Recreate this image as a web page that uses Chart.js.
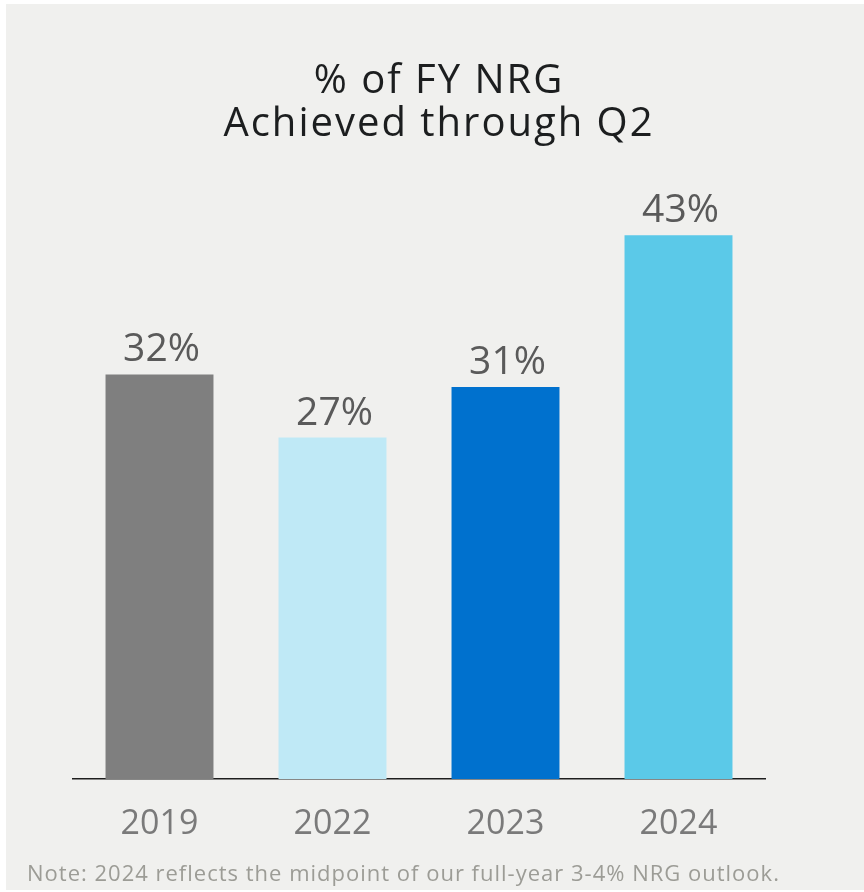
<!DOCTYPE html>
<html>
<head>
<meta charset="utf-8">
<script src="https://cdn.jsdelivr.net/npm/chart.js@4.4.1/dist/chart.umd.min.js"></script>
<style>
  html, body { margin: 0; padding: 0; background: #ffffff; }
  #wrap { width: 864px; height: 892px; position: relative; }
</style>
</head>
<body>
<div id="wrap"><canvas id="chart" width="864" height="892"></canvas></div>
<script>
// Share of full-year NRG achieved through Q2, by year
const years = ['2019', '2022', '2023', '2024'];
const pctAchieved = [32, 27, 31, 43];
const barColors = ['#7f7f7f', '#bfe9f6', '#0071ce', '#5bc9e8'];
const titleLines = ['% of FY NRG', 'Achieved through Q2'];
const noteText = 'Note: 2024 reflects the midpoint of our full-year 3-4% NRG outlook.';

const FONT = '"Open Sans", "Noto Sans", sans-serif';

// Panel background, title and footnote
const panelPlugin = {
  id: 'panel',
  beforeDraw(chart) {
    const ctx = chart.ctx;
    ctx.save();
    ctx.fillStyle = '#ffffff';
    ctx.fillRect(0, 0, chart.width, chart.height);
    ctx.fillStyle = '#f0f0ee';
    ctx.fillRect(6, 4, chart.width - 6, chart.height - 6);
    ctx.restore();
  },
  afterDraw(chart) {
    const ctx = chart.ctx;
    ctx.save();
    ctx.fillStyle = '#1c1e1f';
    ctx.textAlign = 'center';
    ctx.textBaseline = 'alphabetic';
    ctx.font = '400 40px ' + FONT;
    ctx.letterSpacing = '2px';
    ctx.fillText(titleLines[0], 439, 93);
    ctx.fillText(titleLines[1], 439, 136);
    ctx.fillStyle = '#9c9c96';
    ctx.textAlign = 'left';
    ctx.font = '400 22px ' + FONT;
    ctx.letterSpacing = '1px';
    ctx.fillText(noteText, 27, 881);
    ctx.restore();
  }
};

// Percentage labels above each bar
const valueLabels = {
  id: 'valueLabels',
  afterDatasetsDraw(chart) {
    const ctx = chart.ctx;
    const meta = chart.getDatasetMeta(0);
    const data = chart.data.datasets[0].data;
    ctx.save();
    ctx.fillStyle = '#5a5a5a';
    ctx.textAlign = 'center';
    ctx.textBaseline = 'alphabetic';
    ctx.font = '400 39px ' + FONT;
    meta.data.forEach((bar, i) => {
      ctx.fillText(data[i] + '%', bar.x + 2, bar.y - 13);
    });
    ctx.restore();
  }
};

new Chart(document.getElementById('chart'), {
  type: 'bar',
  data: {
    labels: years,
    datasets: [{
      data: pctAchieved,
      backgroundColor: barColors,
      borderWidth: 0,
      categoryPercentage: 1,
      barPercentage: 0.624
    }]
  },
  options: {
    responsive: false,
    animation: false,
    events: [],
    layout: { padding: { top: 210, left: 73, right: 99, bottom: 0 } },
    plugins: {
      legend: { display: false },
      title: { display: false },
      tooltip: { enabled: false }
    },
    scales: {
      x: {
        grid: { display: false, drawTicks: false },
        border: { display: true, color: '#1e1e1e', width: 1.5 },
        ticks: {
          color: '#7a7a7a',
          padding: 25,
          font: { family: FONT, size: 34, weight: '400' }
        },
        afterFit(scale) { scale.height = 113; }
      },
      y: {
        display: false,
        min: 0,
        max: 45
      }
    }
  },
  plugins: [panelPlugin, valueLabels]
});
</script>
</body>
</html>
